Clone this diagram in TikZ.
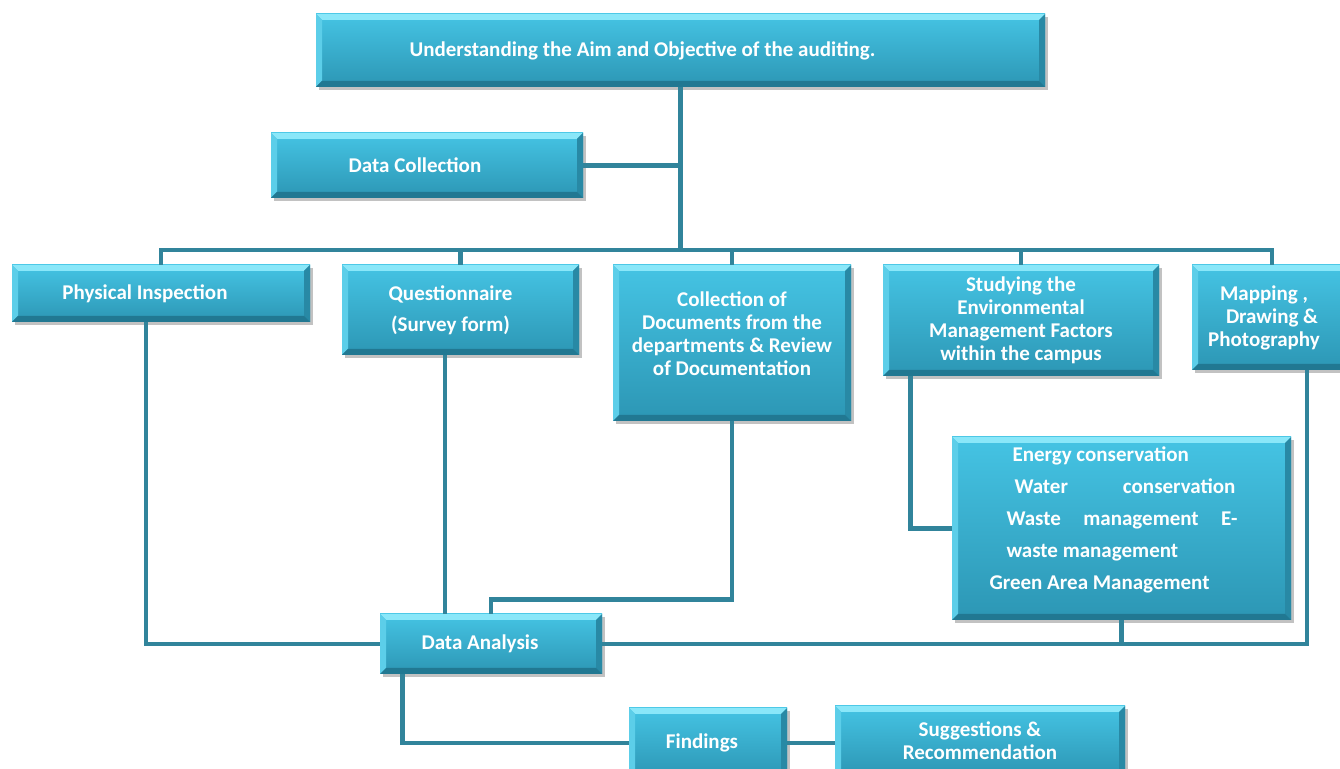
\documentclass[tikz,border=0pt]{standalone}
\usepackage{fontspec}
\setmainfont{Carlito}
\usetikzlibrary{shadows}

\definecolor{linkteal}{HTML}{31849B}
\definecolor{boxtop}{HTML}{45C4E4}
\definecolor{boxbot}{HTML}{2C96B4}
\definecolor{bevlight}{HTML}{8AE7F9}
\definecolor{bevleft}{HTML}{5CCEE9}
\definecolor{bevright}{HTML}{2889A5}
\definecolor{bevdark}{HTML}{217892}

\tikzset{
  auditbox/.style={rectangle, text=white, align=center,
    font=\fontsize{10.5}{11.5}\selectfont\bfseries,
    top color=boxtop, bottom color=boxbot,
    drop shadow={shadow xshift=1.5pt, shadow yshift=-1.5pt, opacity=.4, fill=black!60},
    path picture={
      \path (path picture bounding box.north west) coordinate (bnw)
            (path picture bounding box.north east) coordinate (bne)
            (path picture bounding box.south west) coordinate (bsw)
            (path picture bounding box.south east) coordinate (bse);
      \fill[bevlight] (bnw) -- (bne) -- ([shift={(-3pt,-3pt)}]bne) -- ([shift={(3pt,-3pt)}]bnw) -- cycle;
      \fill[bevleft] (bnw) -- ([shift={(3pt,-3pt)}]bnw) -- ([shift={(3pt,3pt)}]bsw) -- (bsw) -- cycle;
      \fill[bevright] (bne) -- (bse) -- ([shift={(-3pt,3pt)}]bse) -- ([shift={(-3pt,-3pt)}]bne) -- cycle;
      \fill[bevdark] (bsw) -- (bse) -- ([shift={(-3pt,3pt)}]bse) -- ([shift={(3pt,3pt)}]bsw) -- cycle;
    }},
  link/.style={draw=linkteal, line width=2.2pt}
}

\begin{document}
\begin{tikzpicture}[x=0.5pt,y=-0.5pt]
	\useasboundingbox (0,0) rectangle (1340,769);
	\clip (0,0) rectangle (1340,769);

	% Aim and data collection
	\node[auditbox, minimum width=364.5pt, minimum height=36.5pt] (aim) at (680.5,50.5)
		{Understanding the Aim and Objective of the auditing.\hspace*{38pt}};
	\node[auditbox, minimum width=156pt, minimum height=32.5pt] (dc) at (427,165.5)
		{Data Collection\hspace*{12pt}};

	% Methods row
	\node[auditbox, minimum width=149pt, minimum height=28.5pt] (phys) at (161,293.5)
		{Physical Inspection\hspace*{16pt}};
	\node[auditbox, minimum width=118.5pt, minimum height=45pt] (quest) at (460.5,310)
		{Questionnaire\hspace*{10pt}\\[4pt](Survey form)\hspace*{10pt}};
	\node[auditbox, minimum width=119pt, minimum height=78pt, text depth=9.5pt] (coll) at (732,343)
		{Collection of\\Documents from the\\departments \& Review\\of Documentation};
	\node[auditbox, minimum width=138pt, minimum height=55.5pt] (stud) at (1021,320.5)
		{Studying the\\Environmental\\Management Factors\\within the campus};
	\node[auditbox, minimum width=80pt, minimum height=52.5pt] (map) at (1272,317.5)
		{Mapping ,\hspace*{8pt}\\Drawing \&\hspace*{8pt}\\Photography\hspace*{8pt}};

	% Management factors
	\node[auditbox, align=left, minimum width=169.5pt, minimum height=91.5pt, text depth=10.5pt] (en) at (1121.5,528.5)
		{\hspace*{11.5pt}Energy conservation\\[4.5pt]
		 \hspace*{12.5pt}\makebox[110.5pt][l]{Water\hfill conservation}\\[4.5pt]
		 \hspace*{8.5pt}\makebox[115.5pt][l]{Waste\hfill management\hfill E-}\hspace*{8pt}\mbox{}\\[4.5pt]
		 \hspace*{8.5pt}waste management\\[4.5pt]
		 Green Area Management};

	% Analysis and results
	\node[auditbox, minimum width=111pt, minimum height=30pt] (da) at (491,644)
		{Data Analysis\hspace*{11pt}};
	\node[auditbox, minimum width=79pt, minimum height=35pt] (find) at (708,743)
		{Findings\hspace*{6pt}};
	\node[auditbox, minimum width=145pt, minimum height=35pt] (sug) at (980,741)
		{Suggestions \&\\Recommendation};

	% Trunk and branch line
	\coordinate (bus) at (680.5,250);
	\draw[link] (aim.south) -- (bus);
	\draw[link] (dc.east) -- (dc.east -| aim.south);
	\draw[link] (phys.north) |- (bus) -| (map.north);
	\draw[link] (quest.north) -- (quest.north |- bus);
	\draw[link] (coll.north) -- (coll.north |- bus);
	\draw[link] (stud.north) -- (stud.north |- bus);

	% Into data analysis
	\draw[link] ([xshift=-7.5pt]phys.south) |- (da.west);
	\draw[link] ([xshift=-7.75pt]quest.south) -- ([xshift=-7.75pt]quest.south |- da.north);
	\draw[link] (coll.south) |- ([yshift=7pt]da.north) -- (da.north);
	\draw[link] ([xshift=14pt]stud.south west) |- (en.west);
	\draw[link] (en.south) -- (en.south |- da.east);
	\draw[link] (da.east) -| ([xshift=17.5pt]map.south);

	% Findings and suggestions
	\draw[link] ([xshift=11.5pt]da.south west) |- (find.west);
	\draw[link] (find.east) -- (find.east -| sug.west);

\end{tikzpicture}
\end{document}
